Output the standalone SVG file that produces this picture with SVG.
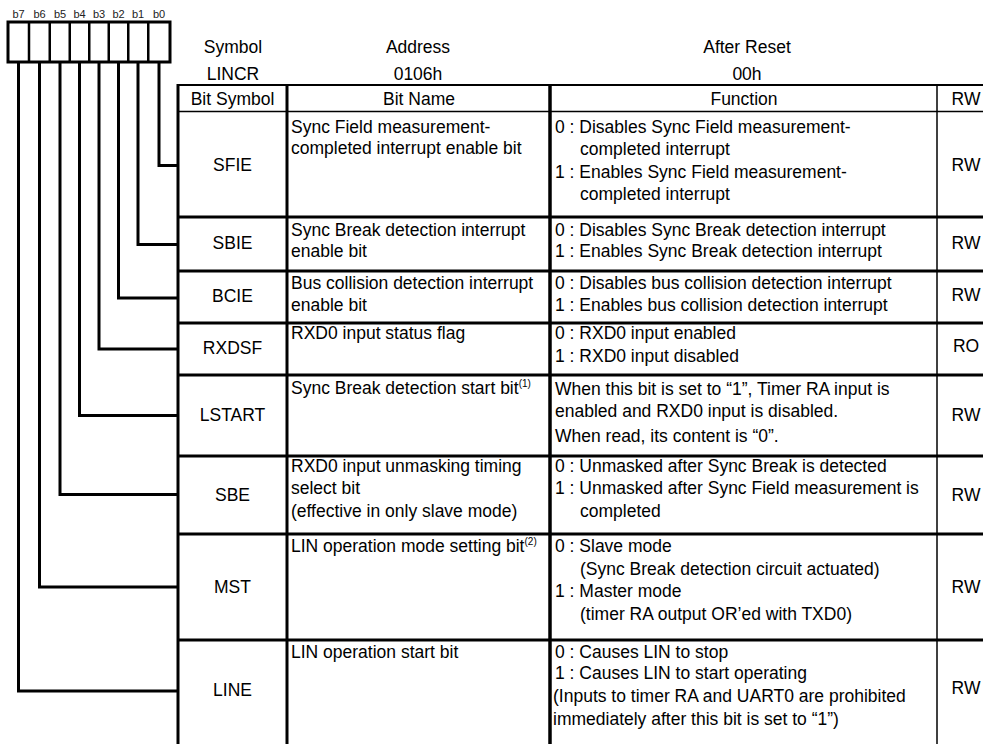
<svg xmlns="http://www.w3.org/2000/svg" width="983" height="744" viewBox="0 0 983 744">
<style>
text{font-family:"Liberation Sans",Arial,sans-serif;font-size:17.5px;fill:#000}
.c{text-anchor:middle}
.b{font-size:11px;fill:#222}
.sup{font-size:10px}
.conn{fill:none;stroke:#000;stroke-width:3;stroke-linejoin:miter}
.g3{stroke:#000;stroke-width:3}
.g2{stroke:#000;stroke-width:2}
.g1{stroke:#000;stroke-width:1.5}
</style>
<rect width="983" height="744" fill="#fff"/>

<g id="bit-register">
  <rect x="8" y="22" width="162" height="40" fill="#fff" stroke="#000" stroke-width="3"/>
  <path d="M29 22V62M49.75 22V62M69.75 22V62M89.25 22V62M108.75 22V62M128.25 22V62M148.25 22V62" stroke="#000" stroke-width="2.5"/>
  <text class="b c" x="18.5" y="18">b7</text>
  <text class="b c" x="39.5" y="18">b6</text>
  <text class="b c" x="60" y="18">b5</text>
  <text class="b c" x="79.5" y="18">b4</text>
  <text class="b c" x="99" y="18">b3</text>
  <text class="b c" x="118.5" y="18">b2</text>
  <text class="b c" x="138" y="18">b1</text>
  <text class="b c" x="159" y="18">b0</text>
</g>

<g id="register-header">
  <text class="c" x="233" y="53">Symbol</text>
  <text class="c" x="418" y="53">Address</text>
  <text class="c" x="747" y="53">After Reset</text>
  <text class="c" x="233" y="80">LINCR</text>
  <text class="c" x="418" y="80">0106h</text>
  <text class="c" x="747" y="80">00h</text>
</g>

<g id="table-grid">
  <line class="g2" x1="178" y1="85" x2="983" y2="85"/>
  <line class="g1" x1="178" y1="111.5" x2="983" y2="111.5"/>
  <line class="g3" x1="178" y1="217" x2="983" y2="217"/>
  <line class="g3" x1="178" y1="271" x2="983" y2="271"/>
  <line class="g3" x1="178" y1="323" x2="983" y2="323"/>
  <line class="g3" x1="178" y1="375" x2="983" y2="375"/>
  <line class="g3" x1="178" y1="456" x2="983" y2="456"/>
  <line class="g3" x1="178" y1="534" x2="983" y2="534"/>
  <line class="g3" x1="178" y1="640" x2="983" y2="640"/>
  <line class="g3" x1="178" y1="84" x2="178" y2="744"/>
  <line class="g3" x1="287" y1="84" x2="287" y2="744"/>
  <line stroke="#000" stroke-width="3.5" x1="550" y1="84" x2="550" y2="744"/>
  <line class="g1" x1="937" y1="84" x2="937" y2="744"/>
  <text class="c" x="232.5" y="105">Bit Symbol</text>
  <text class="c" x="419" y="105">Bit Name</text>
  <text class="c" x="744" y="105">Function</text>
  <text class="c" x="966" y="105">RW</text>
</g>

<g id="connectors">
  <polyline class="conn" points="159,62 159,165.5 178,165.5"/>
  <polyline class="conn" points="138,62 138,244.5 178,244.5"/>
  <polyline class="conn" points="118.5,62 118.5,298 178,298"/>
  <polyline class="conn" points="99,62 99,349 178,349"/>
  <polyline class="conn" points="79.5,62 79.5,415.5 178,415.5"/>
  <polyline class="conn" points="60,62 60,494.5 178,494.5"/>
  <polyline class="conn" points="39.5,62 39.5,587 178,587"/>
  <polyline class="conn" points="18.5,62 18.5,691 178,691"/>
</g>

<g id="row-SFIE">
  <text class="c" x="232.5" y="171">SFIE</text>
  <text x="291" y="133">Sync Field measurement-</text>
  <text x="291" y="154">completed interrupt enable bit</text>
  <text x="555" y="133">0 : Disables Sync Field measurement-</text>
  <text x="580" y="155">completed interrupt</text>
  <text x="555" y="178">1 : Enables Sync Field measurement-</text>
  <text x="580" y="200">completed interrupt</text>
  <text class="c" x="966" y="171">RW</text>
</g>

<g id="row-SBIE">
  <text class="c" x="232.5" y="249">SBIE</text>
  <text x="291" y="236">Sync Break detection interrupt</text>
  <text x="291" y="257">enable bit</text>
  <text x="555" y="236">0 : Disables Sync Break detection interrupt</text>
  <text x="555" y="257">1 : Enables Sync Break detection interrupt</text>
  <text class="c" x="966" y="249">RW</text>
</g>

<g id="row-BCIE">
  <text class="c" x="232.5" y="302">BCIE</text>
  <text x="291" y="289">Bus collision detection interrupt</text>
  <text x="291" y="311">enable bit</text>
  <text x="555" y="289">0 : Disables bus collision detection interrupt</text>
  <text x="555" y="311">1 : Enables bus collision detection interrupt</text>
  <text class="c" x="966" y="301">RW</text>
</g>

<g id="row-RXDSF">
  <text class="c" x="232.5" y="354">RXDSF</text>
  <text x="291" y="339">RXD0 input status flag</text>
  <text x="555" y="339">0 : RXD0 input enabled</text>
  <text x="555" y="362">1 : RXD0 input disabled</text>
  <text class="c" x="966" y="352">RO</text>
</g>

<g id="row-LSTART">
  <text class="c" x="232.5" y="421">LSTART</text>
  <text x="291" y="394">Sync Break detection start bit<tspan class="sup" dy="-7">(1)</tspan></text>
  <text x="555" y="395">When this bit is set to “1”, Timer RA input is</text>
  <text x="555" y="417">enabled and RXD0 input is disabled.</text>
  <text x="555" y="442">When read, its content is “0”.</text>
  <text class="c" x="966" y="421">RW</text>
</g>

<g id="row-SBE">
  <text class="c" x="232.5" y="501">SBE</text>
  <text x="291" y="472">RXD0 input unmasking timing</text>
  <text x="291" y="494">select bit</text>
  <text x="291" y="517">(effective in only slave mode)</text>
  <text x="555" y="472">0 : Unmasked after Sync Break is detected</text>
  <text x="555" y="494">1 : Unmasked after Sync Field measurement is</text>
  <text x="580" y="517">completed</text>
  <text class="c" x="966" y="501">RW</text>
</g>

<g id="row-MST">
  <text class="c" x="232.5" y="593">MST</text>
  <text x="291" y="552">LIN operation mode setting bit<tspan class="sup" dy="-7">(2)</tspan></text>
  <text x="555" y="552">0 : Slave mode</text>
  <text x="580" y="575">(Sync Break detection circuit actuated)</text>
  <text x="555" y="597">1 : Master mode</text>
  <text x="580" y="620">(timer RA output OR’ed with TXD0)</text>
  <text class="c" x="966" y="593">RW</text>
</g>

<g id="row-LINE">
  <text class="c" x="232.5" y="696">LINE</text>
  <text x="291" y="658">LIN operation start bit</text>
  <text x="555" y="658">0 : Causes LIN to stop</text>
  <text x="555" y="679">1 : Causes LIN to start operating</text>
  <text x="553" y="702">(Inputs to timer RA and UART0 are prohibited</text>
  <text x="553" y="725">immediately after this bit is set to “1”)</text>
  <text class="c" x="966" y="694">RW</text>
</g>
</svg>
